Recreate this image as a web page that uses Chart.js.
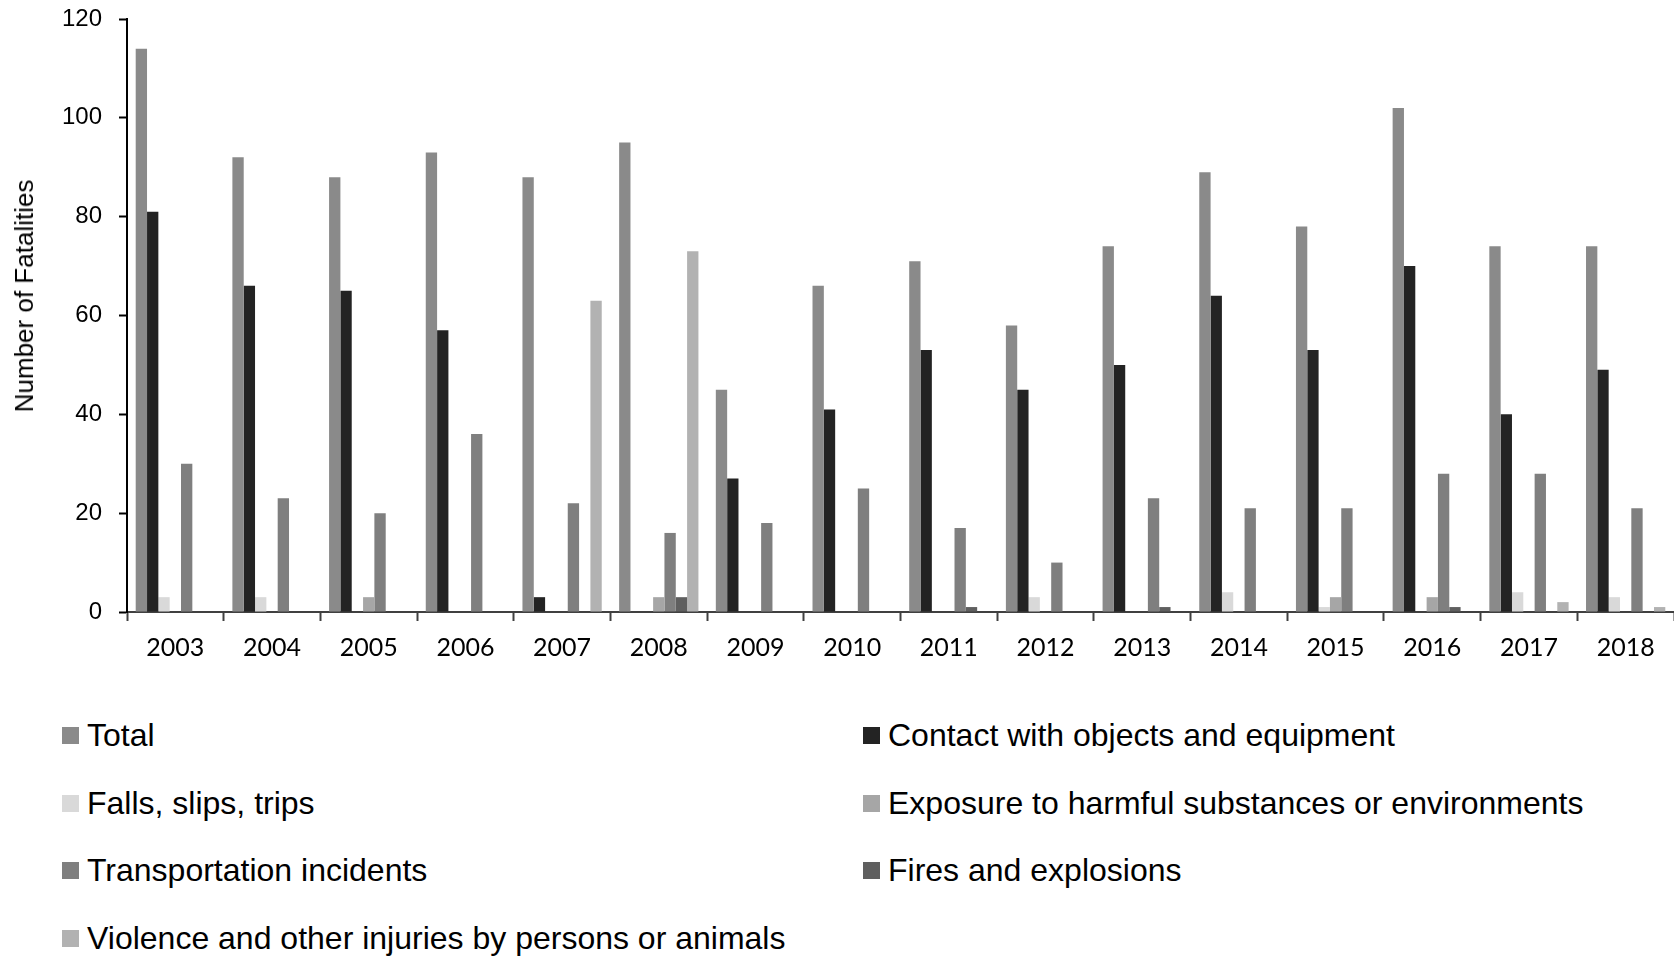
<!DOCTYPE html>
<html>
<head>
<meta charset="utf-8">
<script src="https://cdn.jsdelivr.net/npm/chart.js@4/dist/chart.umd.min.js"></script>
<style>
  html, body { margin: 0; padding: 0; background: #ffffff; }
  body { width: 1674px; height: 959px; position: relative; overflow: hidden; }
  #chartBox { position: absolute; left: 0; top: 0; width: 1674px; height: 680px; }
  #yTitle {
    position: absolute; left: 24px; top: 296px;
    transform: translate(-50%, -50%) rotate(-90deg);
    font-family: "Liberation Sans", Arial, sans-serif; font-size: 26px;
    color: #000; white-space: nowrap; line-height: 1;
  }
  #legend {
    position: absolute; left: 62px; top: 702px;
    display: grid; grid-template-columns: 801px auto; grid-auto-rows: 67.5px;
    font-family: "Liberation Sans", Arial, sans-serif; font-size: 32px; color: #000;
  }
  .item { display: flex; align-items: center; white-space: nowrap; }
  .swatch { width: 17px; height: 17px; margin-right: 8px; flex: none; }
</style>
</head>
<body>
<div id="chartBox"><canvas id="c" width="1674" height="680"></canvas></div>
<div id="yTitle">Number of Fatalities</div>
<div id="legend"></div>
<script>
// Fatalities by event type, per year
const years = ['2003','2004','2005','2006','2007','2008','2009','2010','2011','2012','2013','2014','2015','2016','2017','2018'];
const total          = [114, 92, 88, 93, 88, 95, 45, 66, 71, 58, 74, 89, 78, 102, 74, 74];
const contact        = [81, 66, 65, 57, 3, null, 27, 41, 53, 45, 50, 64, 53, 70, 40, 49];
const falls          = [3, 3, null, null, null, null, null, null, null, 3, null, 4, 1, null, 4, 3];
const exposure       = [null, null, 3, null, null, 3, null, null, null, null, null, null, 3, 3, null, null];
const transportation = [30, 23, 20, 36, 22, 16, 18, 25, 17, 10, 23, 21, 21, 28, 28, 21];
const fires          = [null, null, null, null, null, 3, null, null, 1, null, 1, null, null, 1, null, null];
const violence       = [null, null, null, null, 63, 73, null, null, null, null, null, null, null, null, 2, 1];
const yTicks = [0, 20, 40, 60, 80, 100, 120];

const seriesNames = [
  'Total',
  'Contact with objects and equipment',
  'Falls, slips, trips',
  'Exposure to harmful substances or environments',
  'Transportation incidents',
  'Fires and explosions',
  'Violence and other injuries by persons or animals'
];
const seriesData = [total, contact, falls, exposure, transportation, fires, violence];
const seriesColors = ['#8a8a8a', '#232323', '#d9d9d9', '#a6a6a6', '#7f7f7f', '#5f5f5f', '#b2b2b2'];

const datasets = seriesNames.map((name, i) => ({
  label: name,
  data: seriesData[i],
  backgroundColor: seriesColors[i],
  borderWidth: 0,
  categoryPercentage: 0.82,
  barPercentage: 1.0
}));

new Chart(document.getElementById('c'), {
  type: 'bar',
  data: { labels: years, datasets },
  options: {
    responsive: false,
    animation: false,
    layout: { padding: { left: 0, top: 19, right: 0, bottom: 0 } },
    plugins: { legend: { display: false }, tooltip: { enabled: false } },
    scales: {
      x: {
        grid: { display: true, drawOnChartArea: false, drawTicks: true, tickLength: 9, tickWidth: 2, tickColor: '#404040', offset: true },
        border: { display: true, color: '#404040', width: 2 },
        ticks: { color: '#000', padding: 12, font: { family: 'Lato, "Open Sans", sans-serif', size: 25 } },
        afterFit: (s) => { s.height = 68; }
      },
      y: {
        min: 0, max: 120,
        afterBuildTicks: (s) => { s.ticks = yTicks.map(v => ({ value: v })); },
        grid: { display: true, drawOnChartArea: false, drawTicks: true, tickLength: 8, tickWidth: 2, tickColor: '#000' },
        border: { display: true, color: '#000', width: 2 },
        ticks: { color: '#000', padding: 17, font: { family: '"Liberation Sans", Arial, sans-serif', size: 24 } },
        afterFit: (s) => { s.width = 127; s.paddingTop = 0; s.paddingBottom = 0; }
      }
    }
  }
});

// Two-column legend below the plot
const legend = document.getElementById('legend');
seriesNames.forEach((name, i) => {
  const item = document.createElement('div');
  item.className = 'item';
  const sw = document.createElement('span');
  sw.className = 'swatch';
  sw.style.background = seriesColors[i];
  const tx = document.createElement('span');
  tx.textContent = name;
  item.appendChild(sw);
  item.appendChild(tx);
  legend.appendChild(item);
});
</script>
</body>
</html>
